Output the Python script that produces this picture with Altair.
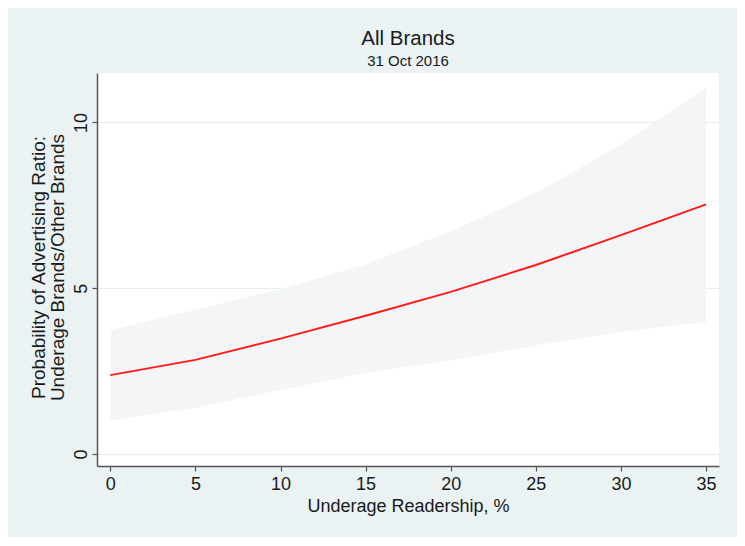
import altair as alt
import pandas as pd

# Data
readership = [0, 5, 10, 15, 20, 25, 30, 35]
fit = [2.38, 2.84, 3.48, 4.17, 4.89, 5.70, 6.60, 7.53]
upper = [3.74, 4.35, 4.98, 5.72, 6.72, 7.88, 9.32, 11.05]
lower = [1.02, 1.40, 1.93, 2.45, 2.83, 3.28, 3.68, 3.99]
x_ticks = [0, 5, 10, 15, 20, 25, 30, 35]
y_ticks = [0, 5, 10]

df = pd.DataFrame({"x": readership, "fit": fit, "lo": lower, "hi": upper})

FONT = "Liberation Sans"
AXIS_COLOR = "#555555"

xs = alt.Scale(domain=[-0.78, 35.76], nice=False, zero=False)
ys = alt.Scale(domain=[-0.36, 11.49], nice=False, zero=False)

x_axis = alt.Axis(
    values=x_ticks, title="Underage Readership, %", grid=False,
    domainColor=AXIS_COLOR, domainWidth=1.5, tickColor=AXIS_COLOR, tickWidth=1.2, tickSize=5,
    labelFont=FONT, labelFontSize=18, labelColor="#1a1a1a", labelPadding=4,
    titleFont=FONT, titleFontSize=18, titleFontWeight="normal", titleColor="#1a1a1a",
    titleX=311, titleY=45, titleBaseline="alphabetic", titleAlign="center",
)
y_axis = alt.Axis(
    values=y_ticks,
    title=["Probability of Advertising Ratio:", "Underage Brands/Other Brands"],
    grid=True, gridColor="#E4EEF0", gridWidth=1,
    domainColor=AXIS_COLOR, domainWidth=1.5, tickColor=AXIS_COLOR, tickWidth=1.2, tickSize=5,
    labelFont=FONT, labelFontSize=18, labelColor="#1a1a1a", labelPadding=6,
    labelAngle=270, labelAlign="center", labelBaseline="alphabetic",
    titleFont=FONT, titleFontSize=19, titleFontWeight="normal", titleColor="#1a1a1a",
    titleAngle=270, titleAlign="center", titleBaseline="alphabetic",
    titleX=-52.5, titleY=194, titleLineHeight=18.5,
)

base = alt.Chart(df)
band = base.mark_area(color="#F3F5F7", opacity=1).encode(
    x=alt.X("x:Q", scale=xs, axis=x_axis),
    y=alt.Y("lo:Q", scale=ys, axis=y_axis),
    y2="hi:Q",
)
line = base.mark_line(color="#FF1A1A", strokeWidth=2).encode(
    x=alt.X("x:Q", scale=xs),
    y=alt.Y("fit:Q", scale=ys),
)

chart = alt.layer(band, line).properties(
    width=622,
    height=393,
    title=alt.TitleParams(
        text="All Brands", subtitle="31 Oct 2016",
        font=FONT, fontSize=20.5, fontWeight="normal", color="#1a1a1a",
        subtitleFont=FONT, subtitleFontSize=15, subtitleColor="#1a1a1a",
        anchor="middle", offset=4, subtitlePadding=5,
    ),
    padding={"left": 89, "top": 65, "right": 18, "bottom": 71},
    autosize=alt.AutoSizeParams(type="none"),
    background="#EAF2F3",
).configure_view(stroke=None, fill="white")

chart.save("out.html", embed_options={"renderer": "svg", "actions": False})
